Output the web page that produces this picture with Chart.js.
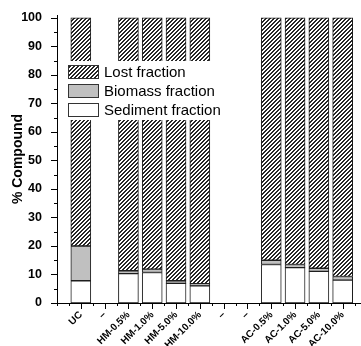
<!DOCTYPE html>
<html>
<head>
<meta charset="utf-8">
<script src="https://cdn.jsdelivr.net/npm/chart.js@4/dist/chart.umd.min.js"></script>
<style>
  body { margin: 0; background: #fff; }
  canvas { display: block; }
</style>
</head>
<body>
<canvas id="fractions" width="361" height="346"></canvas>
<script>
// treatments along the x axis ("–" slots are left empty)
var categories = ["UC", "–", "HM-0.5%", "HM-1.0%", "HM-5.0%", "HM-10.0%", "–", "–", "AC-0.5%", "AC-1.0%", "AC-5.0%", "AC-10.0%"];

// % of compound in each fraction
var sediment = [7.8, null, 10.3, 10.7, 6.9, 6.0, null, null, 13.5, 12.4, 11.1, 8.0];
var biomass  = [12.2, null, 1.0, 1.2, 0.9, 0.8, null, null, 1.5, 1.1, 1.1, 1.3];
var lost     = [80.0, null, 88.7, 88.1, 92.2, 93.2, null, null, 85.0, 86.5, 87.8, 90.7];

var yTicks = [0, 10, 20, 30, 40, 50, 60, 70, 80, 90, 100];

var fontFamily = "'Liberation Sans', Arial, sans-serif";

function makeHatch() {
    var c = document.createElement("canvas");
    c.width = 4;
    c.height = 4;
    var g = c.getContext("2d");
    g.fillStyle = "#fff";
    g.fillRect(0, 0, 4, 4);
    g.fillStyle = "#262626";
    for (let r = 0; r < 4; r++) {
        g.fillRect((3 - r + 4) % 4, r, 1, 1);
        g.fillRect((4 - r + 4) % 4, r, 1, 1);
    }
    return g.createPattern(c, "repeat");
}

var hatch = makeHatch();

function points(values) {
    var out = [];
    for (let i = 0; i < values.length; i++) {
        if (values[i] !== null) out.push({ x: i, y: values[i] });
    }
    return out;
}

// small outward tick marks, long ones on labelled values
var tickMarks = {
    id: "tickMarks",
    afterDraw: function (chart) {
        var ctx = chart.ctx;
        var xs = chart.scales.x;
        var ys = chart.scales.y;
        var area = chart.chartArea;
        ctx.save();
        ctx.strokeStyle = "#000";
        ctx.lineWidth = 1;
        ctx.beginPath();
        for (let v = 0; v <= 100; v += 5) {
            var py = Math.round(ys.getPixelForValue(v)) + 0.5;
            var len = v % 10 === 0 ? 6 : 3;
            ctx.moveTo(area.left - len, py);
            ctx.lineTo(area.left, py);
        }
        for (let v = -1; v <= xs.max; v += 0.5) {
            var px = Math.round(xs.getPixelForValue(v)) + 0.5;
            var len2 = (v % 1 === 0 && v >= 0) ? 6 : 3;
            ctx.moveTo(px, area.bottom);
            ctx.lineTo(px, area.bottom + len2);
        }
        ctx.stroke();
        ctx.restore();
    }
};

// legend box sitting inside the plot, on a white panel
var innerLegend = {
    id: "innerLegend",
    afterDatasetsDraw: function (chart) {
        var ctx = chart.ctx;
        var sets = chart.data.datasets.slice().reverse();
        ctx.save();
        ctx.fillStyle = "#fff";
        ctx.fillRect(62, 61, 154, 59);
        ctx.font = "15px " + fontFamily;
        ctx.textBaseline = "middle";
        for (let i = 0; i < sets.length; i++) {
            var top = 65 + i * 19;
            ctx.fillStyle = sets[i].backgroundColor;
            ctx.fillRect(68, top, 31, 14);
            ctx.strokeStyle = "#333";
            ctx.lineWidth = 1;
            ctx.strokeRect(68.5, top + 0.5, 30, 13);
            ctx.fillStyle = "#000";
            ctx.fillText(sets[i].label, 104, top + 7.5);
        }
        ctx.restore();
    }
};

var barStyle = {
    borderColor: "#1e1e1e",
    borderWidth: 1,
    borderSkipped: false,
    barThickness: 20
};

var fractionChart = new Chart(document.getElementById("fractions"), {
    type: "bar",
    data: {
        datasets: [
            Object.assign({ label: "Sediment fraction", data: points(sediment), backgroundColor: "#ffffff" }, barStyle),
            Object.assign({ label: "Biomass fraction", data: points(biomass), backgroundColor: "#c0c0c0" }, barStyle),
            Object.assign({ label: "Lost fraction", data: points(lost), backgroundColor: hatch }, barStyle)
        ]
    },
    options: {
        responsive: false,
        animation: false,
        layout: { padding: { top: 15, right: 0, left: 0, bottom: 0 } },
        plugins: {
            legend: { display: false },
            tooltip: { enabled: false }
        },
        scales: {
            x: {
                type: "linear",
                stacked: true,
                offset: false,
                min: -1,
                max: 11.77,
                grid: { display: false },
                border: { display: true, color: "#000", width: 1 },
                afterFit: function (scale) { scale.height = 43; },
                afterBuildTicks: function (scale) {
                    scale.ticks = categories.map(function (c, i) { return { value: i }; });
                },
                ticks: {
                    autoSkip: false,
                    minRotation: 45,
                    maxRotation: 45,
                    padding: -2,
                    color: "#000",
                    font: { family: fontFamily, size: 10, weight: "bold" },
                    callback: function (value) { return categories[value]; }
                }
            },
            y: {
                stacked: true,
                min: 0,
                max: 101,
                grid: { display: false },
                border: { display: true, color: "#000", width: 1 },
                afterFit: function (scale) { scale.width = 57; },
                afterBuildTicks: function (scale) {
                    scale.ticks = yTicks.map(function (v) { return { value: v }; });
                },
                title: {
                    display: true,
                    text: "% Compound",
                    color: "#000",
                    padding: { top: 10, bottom: 0 },
                    font: { family: fontFamily, size: 14, weight: "bold" }
                },
                ticks: {
                    padding: 7,
                    color: "#000",
                    font: { family: fontFamily, size: 12.5, weight: "bold" }
                }
            }
        }
    },
    plugins: [tickMarks, innerLegend]
});
</script>
</body>
</html>
